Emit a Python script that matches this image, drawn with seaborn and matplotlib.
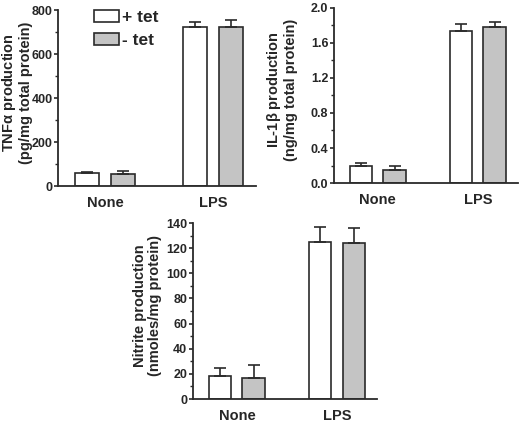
import numpy as np
import pandas as pd
import seaborn as sns
import matplotlib
matplotlib.use("Agg")
import matplotlib.pyplot as plt
from matplotlib.ticker import MultipleLocator, AutoMinorLocator, FormatStrFormatter

# values
treatments = ["None", "LPS"]
tet_levels = ["+ tet", "- tet"]

tnf_plus = [60, 725]
tnf_minus = [55, 722]
tnf_err_plus = [2, 20]
tnf_err_minus = [15, 35]

il1b_plus = [0.19, 1.73]
il1b_minus = [0.15, 1.78]
il1b_err_plus = [0.04, 0.08]
il1b_err_minus = [0.05, 0.06]

nitrite_plus = [18, 125]
nitrite_minus = [17, 124]
nitrite_err_plus = [7, 12]
nitrite_err_minus = [10, 12]

sns.set_style("ticks")
plt.rcParams["font.family"] = ["Liberation Sans", "DejaVu Sans"]
plt.rcParams["font.weight"] = "bold"
plt.rcParams["axes.labelweight"] = "bold"
plt.rcParams["mathtext.default"] = "regular"

colors = {"+ tet": "white", "- tet": "#c4c4c4"}
edge = "#2a2a2a"


def panel(ax, plus, minus, err_plus, err_minus, ylim, major, fmt, ylabel, label_x, legend=False):
    df = pd.DataFrame({
        "treatment": treatments * 2,
        "tet": [tet_levels[0]] * 2 + [tet_levels[1]] * 2,
        "value": list(plus) + list(minus),
    })
    sns.barplot(data=df, x="treatment", y="value", hue="tet", order=treatments,
                hue_order=tet_levels, palette=colors, errorbar=None, width=0.67,
                gap=0.33, edgecolor=edge, linewidth=1.2, ax=ax, legend=legend)
    for cont, errs in zip(ax.containers, [err_plus, err_minus]):
        for bar, e in zip(cont, errs):
            xc = bar.get_x() + bar.get_width() / 2
            ax.errorbar(xc, bar.get_height(), yerr=[[0], [e]], fmt="none",
                        ecolor=edge, elinewidth=1.2, capsize=4.3, capthick=1.2, zorder=1)
    ax.set_xlim(-0.44, 1.40)
    ax.set_ylim(*ylim)
    ax.yaxis.set_major_locator(MultipleLocator(major))
    ax.yaxis.set_minor_locator(AutoMinorLocator(2))
    ax.yaxis.set_major_formatter(FormatStrFormatter(fmt))
    ax.tick_params(axis="y", which="major", length=3, width=1.2, labelsize=9, pad=1, color=edge)
    ax.tick_params(axis="y", which="minor", length=2, width=1.0, color=edge)
    ax.tick_params(axis="x", length=0, labelsize=10.5, pad=7)
    ax.set_xlabel("")
    ax.set_ylabel(ylabel, fontsize=10.5, linespacing=1.1)
    ax.yaxis.set_label_coords(label_x, 0.53)
    sns.despine(ax=ax)
    for s in ["left", "bottom"]:
        ax.spines[s].set_linewidth(1.3)
        ax.spines[s].set_color(edge)


fig = plt.figure(figsize=(5.2, 4.22), dpi=100)
ax1 = fig.add_axes([0.1115, 0.559, 0.381, 0.417])
ax2 = fig.add_axes([0.642, 0.566, 0.354, 0.416])
ax3 = fig.add_axes([0.371, 0.0545, 0.354, 0.417])

panel(ax1, tnf_plus, tnf_minus, tnf_err_plus, tnf_err_minus, (0, 800), 200, "%d",
      "TNF$\\alpha$ production\n(pg/mg total protein)", -0.126, legend=True)
panel(ax2, il1b_plus, il1b_minus, il1b_err_plus, il1b_err_minus, (0, 2.0), 0.4, "%.1f",
      "IL-1$\\beta$ production\n(ng/mg total protein)", -0.196)
panel(ax3, nitrite_plus, nitrite_minus, nitrite_err_plus, nitrite_err_minus, (0, 140), 20, "%d",
      "Nitrite production\n(nmoles/mg protein)", -0.168)

leg = ax1.legend(loc="upper left", bbox_to_anchor=(0.14, 1.05), frameon=False,
                 handlelength=1.4, handleheight=0.72, handletextpad=0.2,
                 labelspacing=0.45, fontsize=12.5, borderpad=0)
for h in leg.legend_handles:
    h.set_edgecolor(edge)
    h.set_linewidth(1.2)
leg.set_title(None)

fig.savefig("out.png", dpi=100)
